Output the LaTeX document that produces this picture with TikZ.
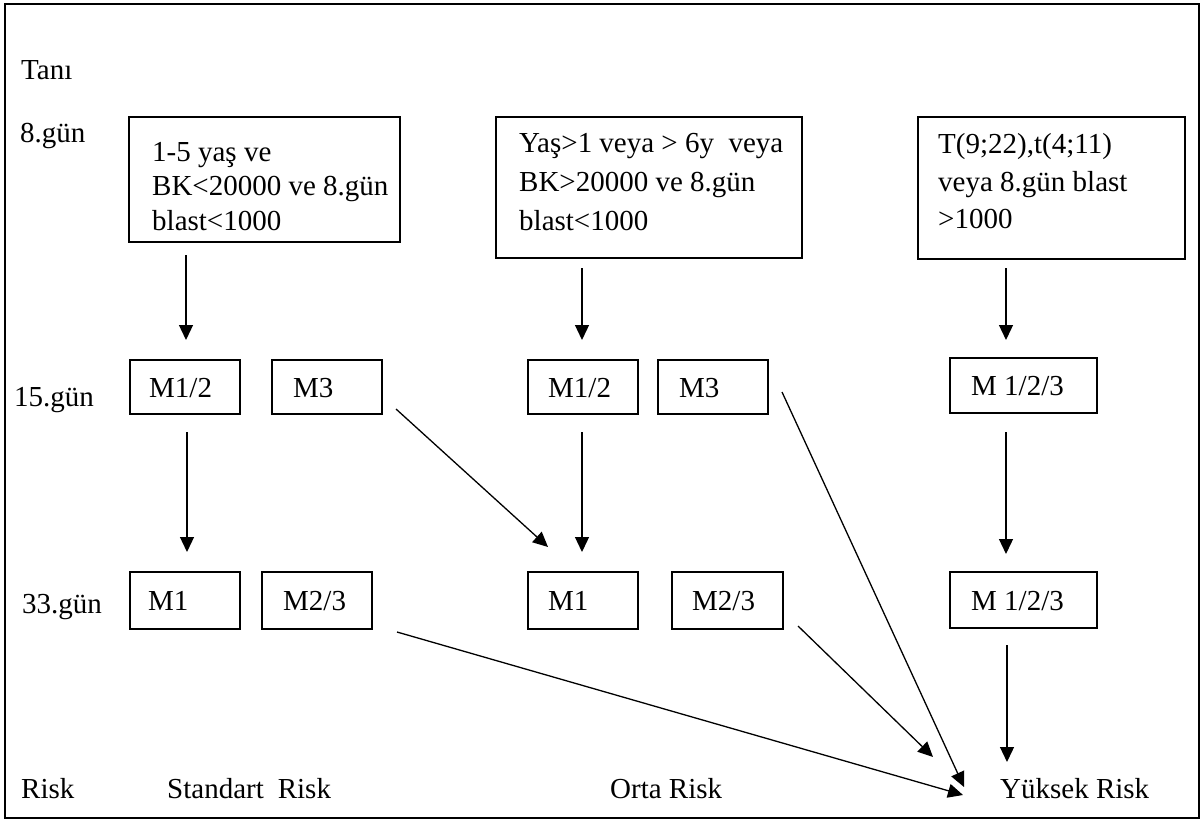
\documentclass[tikz,border=0pt]{standalone}
\usepackage{fontspec}
\setmainfont{Liberation Serif}
\usetikzlibrary{arrows.meta}
\tikzset{
  txt/.style={inner sep=0pt, anchor=base west, font=\fontsize{29}{36}\selectfont},
  box/.style={draw, line width=1.4pt},
  conn/.style={line width=1.3pt, -{Triangle[length=15pt,width=14pt]}},
}
\newcommand{\boxat}[5]{\node[box, inner sep=0pt, minimum width={#4-#2}, minimum height={#5-#3}] (#1) at ({(#2+#4)/2},{(#3+#5)/2}) {};}
\begin{document}
\begin{tikzpicture}[x=1pt,y=-1pt]
\useasboundingbox (0,0) rectangle (1204,821);
\draw[line width=1.8pt] (5,4) rectangle (1199,818);
% left labels
\node[txt] (tani) at (21,80) {Tanı};
\node[txt] (g8) at (20,143) {8.gün};
\node[txt] (g15) at (14,406) {15.gün};
\node[txt] (g33) at (22,613) {33.gün};
\node[txt] (risk) at (21,798) {Risk};
% top boxes
\boxat{b1}{129}{117}{400}{242}
\boxat{b2}{496}{117}{802}{258}
\boxat{b3}{918}{117}{1185}{259}
\node[txt] (t11) at (152,162) {1-5 yaş ve};
\node[txt] (t12) at (152,196) {BK<20000 ve 8.gün};
\node[txt] (t13) at (152,230) {blast<1000};
\node[txt] (t21) at (519,153) {Yaş>1 veya > 6y\ \ veya};
\node[txt] (t22) at (519,192) {BK>20000 ve 8.gün};
\node[txt] (t23) at (519,230) {blast<1000};
\node[txt] (t31) at (938,154) {T(9;22),t(4;11)};
\node[txt] (t32) at (938,192) {veya 8.gün blast};
\node[txt] (t33) at (938,228) {>1000};
% day 15 boxes
\boxat{l12}{130}{360}{240}{414}
\boxat{l3}{272}{360}{382}{414}
\boxat{m12}{528}{360}{638}{414}
\boxat{m3}{658}{360}{768}{414}
\boxat{r123}{950}{358}{1097}{413}
\node[txt] at (149,397) {M1/2};
\node[txt] at (293,397) {M3};
\node[txt] at (548,397) {M1/2};
\node[txt] at (679,397) {M3};
\node[txt] at (971,395) {M 1/2/3};
% day 33 boxes
\boxat{l1}{130}{572}{240}{629}
\boxat{l23}{262}{572}{372}{629}
\boxat{m1}{528}{572}{638}{629}
\boxat{m23}{672}{572}{783}{629}
\boxat{r123b}{950}{572}{1097}{628}
\node[txt] at (148,610) {M1};
\node[txt] at (283,610) {M2/3};
\node[txt] at (548,610) {M1};
\node[txt] at (692,610) {M2/3};
\node[txt] at (971,610) {M 1/2/3};
% bottom labels
\node[txt] (sr) at (167,798) {Standart\hspace{14pt}Risk};
\node[txt] (or) at (610,798) {Orta Risk};
\node[txt] (yr) at (1000,798) {Yüksek Risk};
% connector end points
\coordinate (a1s) at (186,255); \coordinate (a1e) at (186,340);
\coordinate (a2s) at (582,268); \coordinate (a2e) at (582,340);
\coordinate (a3s) at (1006,268); \coordinate (a3e) at (1006,340);
\coordinate (a4s) at (187,432); \coordinate (a4e) at (187,552);
\coordinate (a5s) at (582,432); \coordinate (a5e) at (582,552);
\coordinate (a6s) at (1006,432); \coordinate (a6e) at (1006,554);
\coordinate (a7s) at (396,409); \coordinate (a7e) at (548,547);
\coordinate (a8s) at (782,392); \coordinate (a8e) at (964,787);
\coordinate (a9s) at (798,626); \coordinate (a9e) at (933,757);
\coordinate (a10s) at (397,632); \coordinate (a10e) at (963,795);
\coordinate (a11s) at (1007,645); \coordinate (a11e) at (1007,762);
\foreach \i in {1,...,11} {\draw[conn] (a\i s) -- (a\i e);}
\end{tikzpicture}
\end{document}
